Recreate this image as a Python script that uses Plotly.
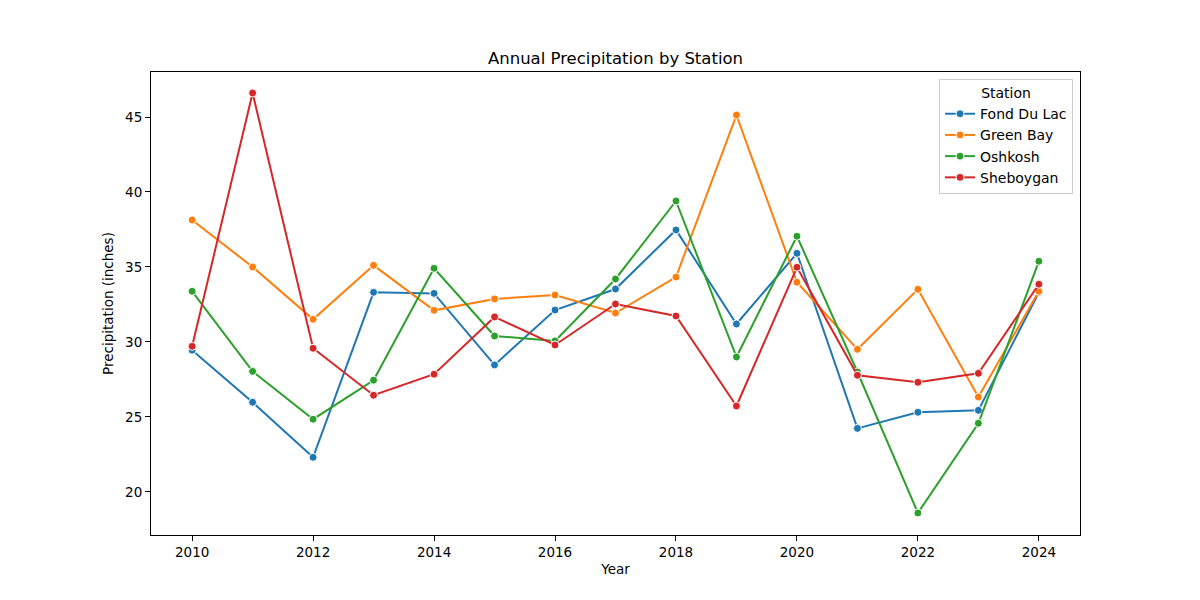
#!/usr/bin/env python3
"""Annual precipitation by station - line chart."""

import plotly.graph_objects as go

# Data
years = list(range(2010, 2025))
fond_du_lac = [29.45, 25.98, 22.31, 33.31, 33.24, 28.47, 32.13, 33.53, 37.47,
               31.2, 35.91, 24.24, 25.31, 25.44, 33.3]
green_bay = [38.13, 35.0, 31.51, 35.11, 32.11, 32.87, 33.13, 31.93, 34.33,
             45.13, 33.98, 29.51, 33.51, 26.33, 33.38]
oshkosh = [33.38, 28.04, 24.85, 27.45, 34.91, 30.4, 30.07, 34.2, 39.4,
           29.0, 37.05, 28.0, 18.6, 24.58, 35.38]
sheboygan = [29.71, 46.6, 29.58, 26.45, 27.85, 31.67, 29.8, 32.53, 31.73,
             25.73, 34.98, 27.78, 27.31, 27.91, 33.85]

stations = ["Fond Du Lac", "Green Bay", "Oshkosh", "Sheboygan"]
series = [fond_du_lac, green_bay, oshkosh, sheboygan]
colors = ["#1f77b4", "#ff7f0e", "#2ca02c", "#d62728"]

fig = go.Figure()

for name, values, color in zip(stations, series, colors):
    fig.add_trace(go.Scatter(
        x=years,
        y=values,
        mode='lines+markers',
        name=name,
        line=dict(color=color, width=2),
        marker=dict(size=8, color=color, line=dict(color='white', width=1))
    ))

font_family = "DejaVu Sans"

# the page body adds ~8px offset, so margins are pulled in by that amount
fig.update_layout(
    width=1200,
    height=600,
    plot_bgcolor='white',
    paper_bgcolor='white',
    font=dict(family=font_family, size=14, color='black'),
    title=dict(
        text='Annual Precipitation by Station',
        x=(143 + 1072) / 2 / 1200,
        xanchor='center',
        y=1 - 50 / 600,
        yanchor='middle',
        font=dict(size=16.5)
    ),
    margin=dict(l=143, r=128, t=64, b=73, autoexpand=False),
    showlegend=True,
    legend=dict(
        title=dict(text='Station', side='top center', font=dict(size=14)),
        x=0.9925,
        y=0.985,
        xanchor='right',
        yanchor='top',
        bgcolor='rgba(255,255,255,0.8)',
        bordercolor='#cccccc',
        borderwidth=1,
        font=dict(size=14),
        tracegroupgap=0
    )
)

axis_style = dict(
    showline=True,
    linecolor='black',
    linewidth=1,
    mirror=True,
    showgrid=False,
    zeroline=False,
    ticks='outside',
    ticklen=5,
    tickcolor='black',
    tickfont=dict(size=13.5),
    automargin=False
)

fig.update_xaxes(
    title_text='Year',
    title_font=dict(size=13.5),
    range=[2009.32, 2024.68],
    tickvals=list(range(2010, 2025, 2)),
    title_standoff=5,
    **axis_style
)
fig.update_yaxes(
    title_text='Precipitation (inches)',
    title_font=dict(size=13.5),
    range=[17.13, 48.0],
    tickvals=[20, 25, 30, 35, 40, 45],
    title_standoff=8,
    **axis_style
)

fig.write_html("out.html")
